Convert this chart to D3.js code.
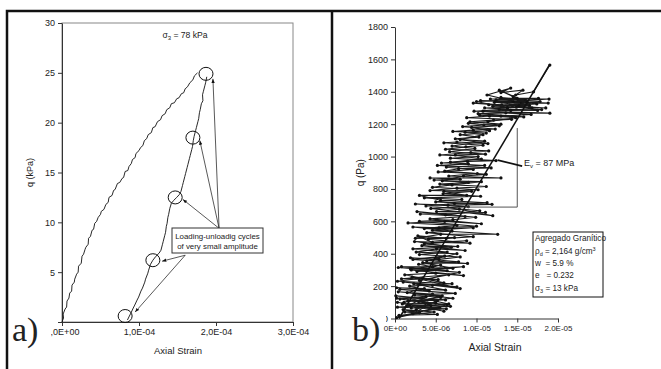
<!DOCTYPE html>
<html>
<head>
<meta charset="utf-8">
<script src="https://d3js.org/d3.v7.min.js"></script>
<style>
  body { margin: 0; background: #fff; }
  svg text { font-family: "Liberation Sans", Arial, sans-serif; fill: #222; white-space: pre; }
</style>
</head>
<body>
<svg id="chart" width="661" height="369"></svg>
<script>
// ---- panel a) : strain in units of 1E-04, q in kPa ----
const loadingCurve = [
  [0, 0], [0.02, 0.4], [0.015, 0.8], [0.04, 1.3], [0.06, 1.5], [0.065, 2.1], [0.09, 2.4], [0.1, 2.9],
  [0.125, 3.1], [0.13, 3.7], [0.16, 4.0], [0.165, 4.3], [0.19, 4.8], [0.21, 5.0], [0.215, 5.6],
  [0.25, 5.9], [0.26, 6.6], [0.28, 6.8], [0.3, 7.3], [0.31, 7.5], [0.34, 7.8], [0.345, 8.4],
  [0.37, 8.6], [0.39, 9.2], [0.41, 9.3], [0.425, 9.9], [0.45, 10.1], [0.47, 10.5], [0.5, 10.8],
  [0.51, 11.1], [0.545, 11.3], [0.57, 11.8], [0.6, 12.0], [0.61, 12.5], [0.65, 12.7], [0.67, 13.2],
  [0.69, 13.3], [0.72, 13.9], [0.75, 14.0], [0.78, 14.4], [0.8, 14.5], [0.82, 15.1], [0.855, 15.2],
  [0.87, 15.6], [0.9, 15.9], [0.915, 16.3], [0.95, 16.5], [0.96, 16.9], [1.0, 17.2], [1.02, 17.5],
  [1.05, 17.7], [1.07, 18.2], [1.1, 18.4], [1.12, 18.8], [1.16, 19.0], [1.18, 19.5], [1.21, 19.6],
  [1.24, 20.1], [1.28, 20.3], [1.3, 20.7], [1.34, 20.9], [1.36, 21.3], [1.4, 21.5], [1.42, 21.9],
  [1.46, 22.0], [1.49, 22.4], [1.52, 22.5], [1.55, 22.9], [1.58, 23.0], [1.6, 23.4], [1.63, 23.6],
  [1.66, 24.0], [1.7, 24.3], [1.72, 24.7], [1.76, 25.0]
];
const cycleCurve = [
  [1.88, 24.6], [1.865, 24.0], [1.855, 23.7], [1.835, 23.1], [1.825, 22.8], [1.83, 22.2], [1.81, 21.9],
  [1.795, 21.3], [1.785, 21.0], [1.775, 20.4], [1.765, 20.1], [1.745, 19.5], [1.735, 19.2], [1.715, 18.6],
  [1.705, 18.2], [1.695, 17.6], [1.685, 17.3], [1.665, 16.7], [1.655, 16.4], [1.635, 15.8], [1.625, 15.5],
  [1.605, 14.9], [1.595, 14.6], [1.575, 14.0], [1.565, 13.7], [1.545, 13.1], [1.525, 12.8], [1.49, 12.5],
  [1.45, 12.2], [1.42, 11.9], [1.40, 11.4], [1.385, 10.8], [1.375, 10.5], [1.365, 9.9], [1.355, 9.6],
  [1.345, 9.0], [1.335, 8.7], [1.315, 8.1], [1.305, 7.8], [1.285, 7.2], [1.26, 6.9], [1.22, 6.6],
  [1.18, 6.2], [1.15, 5.8], [1.125, 5.2], [1.115, 4.9], [1.085, 4.3], [1.075, 4.0], [1.045, 3.4],
  [1.025, 3.1], [0.995, 2.5], [0.975, 2.2], [0.945, 1.7], [0.925, 1.4], [0.895, 0.9], [0.875, 0.6], [0.85, 0.2]
];
const cycleMarks = [[1.87, 24.9], [1.70, 18.5], [1.47, 12.5], [1.18, 6.2], [0.82, 0.6]];
// callout: [origin, target] pairs
const calloutArrows = [
  [[2.04, 9.4], [1.96, 24.4]],
  [[2.04, 9.4], [1.79, 18.2]],
  [[2.04, 9.4], [1.57, 12.3]],
  [[1.60, 6.7], [1.30, 6.1]],
  [[1.60, 6.7], [0.95, 1.0]]
];
const calloutText = ["Loading-unloadig cycles", "of very small amplitude"];
const xTicksA = [0, 1, 2, 3];
const xTickLabelsA = ["0,0E+00", "1,0E-04", "2,0E-04", "3,0E-04"];
const yTicksA = [0, 5, 10, 15, 20, 25, 30];

// ---- panel b) : strain in units of 1E-06, q in Pa ----
const cyclicData = [
  [0.2, 5], [3.0, 35], [1.0, 55], [4.8, 40], [0.5, 15], [5.5, 65], [1.8, 85], [6.0, 45], [0.3, 100],
  [3.6, 70], [2.2, 30], [6.4, 85], [0.6, 120], [4.0, 95], [2.6, 55], [5.2, 110], [0.1, 140], [3.3, 125],
  [6.6, 90], [1.4, 75], [4.6, 150], [0.4, 165], [5.8, 140], [2.9, 105], [7.1, 125],
  [1.5, 160], [3.6, 185], [0.2, 190], [6.2, 175], [2.3, 215], [7.6, 195], [1.0, 225], [4.6, 205],
  [8.0, 185], [2.1, 255], [5.3, 240], [0.8, 245], [6.6, 270], [3.0, 235], [7.9, 285], [0.4, 315],
  [4.1, 300], [8.4, 320], [1.9, 305], [5.6, 330], [2.7, 290], [7.1, 310],
  [3.4, 345], [8.9, 340], [2.2, 365], [6.1, 385], [3.9, 355], [7.6, 400], [2.6, 410], [5.1, 430],
  [8.6, 420], [3.3, 450], [6.9, 440], [2.4, 475], [9.2, 465], [4.1, 490], [7.3, 500], [2.5, 495], [5.6, 520],
  [12.6, 520], [4.6, 545], [9.6, 560], [3.6, 555], [7.6, 575], [1.6, 590], [6.1, 600], [10.6, 585],
  [4.3, 615], [8.6, 630], [3.1, 645], [11.1, 655], [5.1, 660], [7.9, 675], [12.0, 635], [4.4, 680],
  [9.0, 690], [2.5, 707], [6.5, 700], [11.9, 705],
  [5.0, 720], [8.2, 735], [3.6, 745], [10.5, 755], [5.9, 770], [9.4, 785], [4.3, 790], [7.6, 805],
  [11.2, 815], [5.5, 830], [9.0, 840], [4.8, 855], [8.0, 860], [4.3, 868], [13.0, 868], [6.6, 880],
  [10.1, 895], [5.3, 905],
  [9.6, 920], [6.3, 935], [11.0, 945], [5.7, 960], [8.9, 970], [12.4, 975], [6.8, 990], [10.2, 1000],
  [5.5, 1010], [9.3, 1025], [11.5, 1035], [6.2, 1045], [8.7, 1060], [10.8, 1070], [6.0, 1085],
  [7.6, 1090], [11.4, 1080],
  [7.4, 1110], [10.3, 1120], [8.0, 1135], [11.2, 1145], [7.1, 1155], [9.6, 1163], [12.3, 1170],
  [8.3, 1185], [10.9, 1195], [13.0, 1200], [9.2, 1215], [12.1, 1225], [14.3, 1230], [8.8, 1240], [11.6, 1250],
  [15.8, 1245], [10.2, 1265], [13.6, 1270], [19.0, 1268], [9.7, 1280], [12.8, 1290], [17.5, 1285],
  [11.0, 1300], [14.9, 1305], [18.5, 1300], [9.6, 1330], [13.1, 1320], [16.5, 1315], [12.2, 1335],
  [18.8, 1330], [10.5, 1345], [14.5, 1340], [18.9, 1355], [11.7, 1355], [16.0, 1350], [13.0, 1365],
  [17.4, 1325], [12.0, 1310], [15.5, 1330], [11.3, 1380], [14.2, 1423], [13.0, 1395], [15.7, 1410],
  [14.8, 1380], [17.0, 1400], [19.0, 1565]
];
const cyclicDataRepeat = [
  [0.5, 20], [5.2, 25], [1.2, 40], [6.3, 60], [0.3, 70], [4.4, 80], [2.0, 65], [6.8, 75], [0.9, 90],
  [5.0, 95], [1.6, 110], [6.2, 115], [0.2, 125], [3.8, 135], [1.1, 100], [5.6, 130], [2.4, 145],
  [7.4, 155], [0.6, 180], [4.2, 170], [1.8, 200], [7.0, 215], [0.3, 230], [3.4, 250], [6.0, 220],
  [1.2, 270], [5.0, 280], [8.4, 265], [2.0, 300], [6.4, 295], [0.8, 320], [4.6, 320], [2.9, 335],
  [7.8, 350], [1.9, 375], [5.4, 365], [8.0, 380], [3.0, 395], [6.4, 410], [2.2, 430], [7.7, 445],
  [3.6, 460], [8.8, 480], [4.6, 470], [2.8, 510], [6.3, 495], [9.6, 505], [3.9, 530], [7.0, 540],
  [2.2, 565], [5.4, 560], [10.0, 570], [3.0, 600], [7.1, 610], [9.9, 625], [2.7, 660], [6.2, 640],
  [10.4, 665], [3.8, 695], [7.3, 710], [11.3, 715], [5.6, 730], [3.0, 760], [8.8, 760], [6.0, 785],
  [10.2, 795], [4.6, 810], [7.0, 825], [10.6, 845], [5.8, 850], [8.4, 880], [11.2, 890], [6.1, 910],
  [7.8, 925], [11.8, 930], [5.2, 945], [9.0, 955], [6.8, 965], [10.6, 985], [7.4, 1010], [11.1, 1015],
  [6.7, 1030], [9.8, 1050], [7.0, 1065], [11.0, 1095], [8.0, 1105], [10.8, 1135], [8.6, 1150],
  [11.6, 1160], [9.4, 1180], [12.8, 1190], [9.0, 1205], [11.4, 1215], [14.8, 1240], [10.4, 1255],
  [13.0, 1250], [16.7, 1260], [10.8, 1280], [14.2, 1285], [18.0, 1290], [11.5, 1320], [15.2, 1315],
  [17.8, 1340], [12.4, 1350], [15.0, 1360], [17.6, 1360], [10.0, 1340], [13.8, 1300], [16.2, 1335],
  [12.8, 1410], [14.5, 1370], [16.8, 1300]
];
const modulusLine = [[0.5, 0], [19.0, 1570]];
const modulusTriangle = [[8.6, 688], [15.0, 688], [15.0, 1176]];
const modulusLeader = [[12.6, 978], [15.6, 941]];
const xTicksB = [0, 5, 10, 15, 20];
const xTickLabelsB = ["0E+00", "5.0E-06", "1.0E-05", "1.5E-05", "2.0E-05"];
const yTicksB = [0, 200, 400, 600, 800, 1000, 1200, 1400, 1600, 1800];
const sampleInfo = [
  ["Agregado Granítico"],
  ["ρ", "d", " = 2,164 g/cm", "3"],
  ["w  = 5.9 %"],
  ["e   = 0.232"],
  ["σ", "3", " = 13 kPa"]
];

const svg = d3.select("#chart");
const defs = svg.append("defs");
defs.append("marker")
  .attr("id", "arrow")
  .attr("viewBox", "0 0 10 10")
  .attr("refX", 10).attr("refY", 5)
  .attr("markerWidth", 6).attr("markerHeight", 6)
  .attr("orient", "auto")
  .append("path").attr("d", "M0,1L10,5L0,9z").attr("fill", "#111");

// outer frames
svg.append("path")
  .attr("d", "M7,369V11H661M332,11V369")
  .attr("fill", "none").attr("stroke", "#111").attr("stroke-width", 2.5);

function styleAxis(g, size) {
  g.select(".domain").attr("stroke", "#333");
  g.selectAll(".tick line").attr("stroke", "#333");
  g.selectAll(".tick text").attr("fill", "#333").style("font-size", size + "px");
}

// ================= panel a =================
const xA = d3.scaleLinear().domain([0, 3]).range([62, 293]);
const yA = d3.scaleLinear().domain([0, 30]).range([322, 23]);

svg.append("rect")
  .attr("x", xA(0)).attr("y", yA(30))
  .attr("width", xA(3) - xA(0)).attr("height", yA(0) - yA(30))
  .attr("fill", "none").attr("stroke", "#888").attr("stroke-width", 1);

svg.append("g")
  .attr("transform", `translate(0,${yA(0)})`)
  .call(d3.axisBottom(xA).tickValues(xTicksA).tickSize(4).tickSizeOuter(0)
    .tickFormat((d, i) => xTickLabelsA[i]))
  .call(g => styleAxis(g, 9));
svg.append("g")
  .attr("transform", `translate(${xA(0)},0)`)
  .call(d3.axisLeft(yA).tickValues(yTicksA).tickSize(4).tickSizeOuter(0))
  .call(g => styleAxis(g, 9));

const lineA = d3.line().x(d => xA(d[0])).y(d => yA(d[1]));
[loadingCurve, cycleCurve].forEach(c => {
  svg.append("path").datum(c).attr("d", lineA)
    .attr("fill", "none").attr("stroke", "#111").attr("stroke-width", 0.9);
});

svg.append("g").selectAll("ellipse").data(cycleMarks).join("ellipse")
  .attr("cx", d => xA(d[0])).attr("cy", d => yA(d[1]))
  .attr("rx", 7).attr("ry", 6.5)
  .attr("fill", "none").attr("stroke", "#111").attr("stroke-width", 1);

svg.append("g").selectAll("line").data(calloutArrows).join("line")
  .attr("x1", d => xA(d[0][0])).attr("y1", d => yA(d[0][1]))
  .attr("x2", d => xA(d[1][0])).attr("y2", d => yA(d[1][1]))
  .attr("stroke", "#111").attr("stroke-width", 0.7)
  .attr("marker-end", "url(#arrow)");

const boxA = svg.append("g");
boxA.append("rect")
  .attr("x", 172).attr("y", 228).attr("width", 91).attr("height", 25)
  .attr("fill", "#fff").attr("stroke", "#333").attr("stroke-width", 1);
boxA.selectAll("text").data(calloutText).join("text")
  .attr("x", 217.5).attr("y", (d, i) => 239 + i * 10)
  .attr("text-anchor", "middle").style("font-size", "7.9px").attr("fill", "#333")
  .text(d => d);

const sigA = svg.append("text").attr("x", 185).attr("y", 38)
  .attr("text-anchor", "middle").style("font-size", "8.6px").attr("fill", "#333");
sigA.append("tspan").text("σ");
sigA.append("tspan").attr("dy", 2).style("font-size", "6px").text("3");
sigA.append("tspan").attr("dy", -2).text(" = 78 kPa");

svg.append("text")
  .attr("transform", `translate(33,${yA(15)}) rotate(-90)`)
  .attr("text-anchor", "middle").style("font-size", "9px").attr("fill", "#333")
  .text("q (kPa)");
svg.append("text").attr("x", 178).attr("y", 354)
  .attr("text-anchor", "middle").style("font-size", "9.5px").attr("fill", "#333")
  .text("Axial Strain");

// white label patch that hides part of the zero tick labels
svg.append("path").attr("d", "M10,316H56V327H51V348H10Z").attr("fill", "#fff");
svg.append("text").attr("x", 12).attr("y", 341)
  .style("font-family", "'Liberation Serif','Times New Roman',serif")
  .style("font-size", "34px").attr("fill", "#111").text("a)");

// ================= panel b =================
const xB = d3.scaleLinear().domain([0, 20]).range([395, 558]);
const yB = d3.scaleLinear().domain([0, 1800]).range([318.5, 27]);

svg.append("g")
  .attr("transform", `translate(0,${yB(0)})`)
  .call(d3.axisBottom(xB).tickValues(xTicksB).tickSize(4).tickSizeOuter(0)
    .tickFormat((d, i) => xTickLabelsB[i]))
  .call(g => styleAxis(g, 8));
svg.append("g")
  .attr("transform", `translate(${xB(0)},0)`)
  .call(d3.axisLeft(yB).tickValues(yTicksB).tickSize(4).tickSizeOuter(0).tickFormat(d3.format("d")))
  .call(g => styleAxis(g, 9));

const lineB = d3.line().x(d => xB(d[0])).y(d => yB(d[1]));
[cyclicData, cyclicDataRepeat].forEach(series => {
  svg.append("path").datum(series).attr("d", lineB)
    .attr("fill", "none").attr("stroke", "#1a1a1a").attr("stroke-width", 1.1);
  svg.append("g").selectAll("circle").data(series).join("circle")
    .attr("cx", d => xB(d[0])).attr("cy", d => yB(d[1])).attr("r", 1.6)
    .attr("fill", "#111");
});

svg.append("path").datum(modulusLine).attr("d", lineB)
  .attr("fill", "none").attr("stroke", "#111").attr("stroke-width", 1.5);
svg.append("path").datum(modulusTriangle).attr("d", lineB)
  .attr("fill", "none").attr("stroke", "#555").attr("stroke-width", 1);
svg.append("path").datum(modulusLeader).attr("d", lineB)
  .attr("fill", "none").attr("stroke", "#111").attr("stroke-width", 1.6);

const ev = svg.append("text").attr("x", 524).attr("y", 166)
  .style("font-size", "9px").attr("fill", "#222");
ev.append("tspan").text("E");
ev.append("tspan").attr("dy", 2).style("font-size", "6px").text("v");
ev.append("tspan").attr("dy", -2).text(" = 87 MPa");

const info = svg.append("g");
info.append("rect").attr("x", 533).attr("y", 232).attr("width", 70).attr("height", 65)
  .attr("fill", "#fff").attr("stroke", "#111").attr("stroke-width", 1);
const infoY = [241, 254, 266, 278, 291];
sampleInfo.forEach((parts, i) => {
  const t = info.append("text").attr("x", 535).attr("y", infoY[i])
    .style("font-size", "8.2px").attr("fill", "#222");
  if (parts.length === 1) { t.text(parts[0]); return; }
  t.append("tspan").text(parts[0]);
  t.append("tspan").attr("dy", 2).style("font-size", "5.5px").text(parts[1]);
  t.append("tspan").attr("dy", -2).text(parts[2]);
  if (parts[3]) t.append("tspan").attr("dy", -3).style("font-size", "5.5px").text(parts[3]);
});

svg.append("text")
  .attr("transform", `translate(364,${yB(900)}) rotate(-90)`)
  .attr("text-anchor", "middle").style("font-size", "10px").attr("fill", "#333")
  .text("q (Pa)");
svg.append("text").attr("x", 495).attr("y", 351)
  .attr("text-anchor", "middle").style("font-size", "10.5px").attr("fill", "#333")
  .text("Axial Strain");

svg.append("rect").attr("x", 350).attr("y", 314).attr("width", 36).attr("height", 12).attr("fill", "#fff");
svg.append("text").attr("x", 352).attr("y", 341)
  .style("font-family", "'Liberation Serif','Times New Roman',serif")
  .style("font-size", "34px").attr("fill", "#111").text("b)");
</script>
</body>
</html>
